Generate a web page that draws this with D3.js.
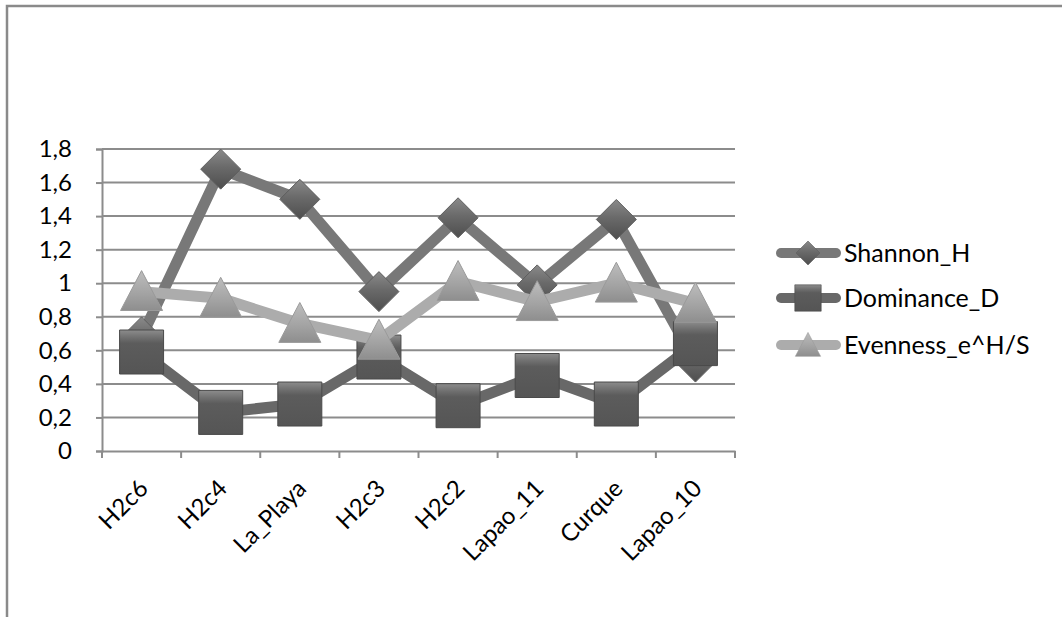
<!DOCTYPE html>
<html><head><meta charset="utf-8">
<script src="https://cdn.jsdelivr.net/npm/d3@7"></script>
<style>body{margin:0;background:#fff}svg{display:block}text{font-family:Lato,"Open Sans",sans-serif;fill:#000}</style>
</head><body>
<script>
const categories = ["H2c6","H2c4","La_Playa","H2c3","H2c2","Lapao_11","Curque","Lapao_10"];
const shannonH = [0.68,1.68,1.50,0.95,1.39,0.99,1.38,0.53];
const dominanceD = [0.59,0.23,0.28,0.56,0.27,0.45,0.28,0.64];
const evenness = [0.95,0.91,0.76,0.66,1.01,0.89,1.00,0.88];
const yTicks = [0,0.2,0.4,0.6,0.8,1,1.2,1.4,1.6,1.8];
const seriesNames = ["Shannon_H","Dominance_D","Evenness_e^H/S"];

const W=1062,H=617;
const svg=d3.select("body").append("svg").attr("width",W).attr("height",H);
const defs=svg.append("defs");
function lg(id,stops,x2,y2){const g=defs.append("linearGradient").attr("id",id).attr("x1",0).attr("y1",0).attr("x2",x2).attr("y2",y2);
 stops.forEach(s=>g.append("stop").attr("offset",s[0]).attr("stop-color",s[1]));}
lg("gDia",[[0,"#8a8a8a"],[0.45,"#6a6a6a"],[1,"#4e4e4e"]],0,1);
lg("gSq",[[0,"#8c8c8c"],[0.18,"#6e6e6e"],[0.3,"#5c5c5c"],[1,"#555"]],0,1);
lg("gTri",[[0,"#bdbdbd"],[0.6,"#a2a2a2"],[1,"#8e8e8e"]],0,1);

// border
svg.append("path").attr("d",`M7,${H} V6 H${W}`).attr("fill","none").attr("stroke","#8a8a8a").attr("stroke-width",2.5);

const x=d3.scaleBand().domain(categories).range([102,735]);
const y=d3.scaleLinear().domain([0,1.8]).range([451,149]);

// gridlines
svg.append("g").selectAll("line").data(yTicks.slice(1)).join("line")
 .attr("x1",102).attr("x2",735).attr("y1",d=>y(d)).attr("y2",d=>y(d))
 .attr("stroke","#8c8c8c").attr("stroke-width",2);

const yAxis=svg.append("g").attr("transform","translate(102,0)")
 .call(d3.axisLeft(y).tickValues(yTicks).tickSize(6).tickPadding(24).tickFormat(d=>String(d).replace(".",",")));
yAxis.select(".domain").attr("stroke","#8c8c8c").attr("stroke-width",2);
yAxis.selectAll(".tick line").attr("stroke","#8c8c8c").attr("stroke-width",2);
yAxis.selectAll("text").attr("font-size",24).style("font-family","Lato");

const xAxis=svg.append("g").attr("transform","translate(0,451)")
 .call(d3.axisBottom(x).tickSize(0).tickFormat(""));
xAxis.select(".domain").attr("stroke","#8c8c8c").attr("stroke-width",2);
const tickPos=categories.map(c=>x(c)).concat([x.range()[1]]);
svg.append("g").selectAll("line").data(tickPos).join("line")
 .attr("x1",d=>d).attr("x2",d=>d).attr("y1",451).attr("y2",458).attr("stroke","#8c8c8c").attr("stroke-width",2);
svg.append("g").selectAll("text").data(categories).join("text")
 .attr("transform",d=>`translate(${x(d)+x.bandwidth()/2+8},490) rotate(-45)`)
 .attr("text-anchor","end").attr("font-size",24).text(d=>d);

const cx=c=>x(c)+x.bandwidth()/2;
const diamond=(s)=>`M0,${-s}L${s},0L0,${s}L${-s},0Z`;
const square=(s)=>`M${-s},${-s}H${s}V${s}H${-s}Z`;
const triangle=(s)=>`M0,${-s}L${s},${s*0.9}H${-s}Z`;

const series=[
 {name:seriesNames[0],vals:shannonH,line:"#787878",shape:diamond(20),fill:"url(#gDia)",stroke:"#5e5e5e"},
 {name:seriesNames[1],vals:dominanceD,line:"#686868",shape:square(22),fill:"url(#gSq)",stroke:"#4a4a4a"},
 {name:seriesNames[2],vals:evenness,line:"#acacac",shape:triangle(21),fill:"url(#gTri)",stroke:"#9a9a9a"}
];
const lineGen=d3.line().x((d,i)=>cx(categories[i])).y(d=>y(d));
series.forEach(s=>{
 const g=svg.append("g");
 g.append("path").attr("d",lineGen(s.vals)).attr("fill","none").attr("stroke",s.line).attr("stroke-width",11).attr("stroke-linejoin","round");
 g.selectAll("path.m").data(s.vals).join("path").attr("class","m")
  .attr("transform",(d,i)=>`translate(${cx(categories[i])},${y(d)})`).attr("d",s.shape)
  .attr("fill",s.fill).attr("stroke",s.stroke).attr("stroke-width",1);
});

// legend
const lgY=[253,298,345];
const legend=svg.append("g");
series.forEach((s,i)=>{
 const g=legend.append("g").attr("transform",`translate(0,${lgY[i]})`);
 g.append("line").attr("x1",781).attr("x2",836).attr("y1",0).attr("y2",0).attr("stroke",s.line).attr("stroke-width",10).attr("stroke-linecap","round");
 g.append("path").attr("transform","translate(808,0) scale(0.6)").attr("d",s.shape).attr("fill",s.fill).attr("stroke",s.stroke);
 g.append("text").attr("x",844).attr("y",0).attr("dy","0.35em").attr("font-size",25).text(s.name);
});
</script>
</body></html>
